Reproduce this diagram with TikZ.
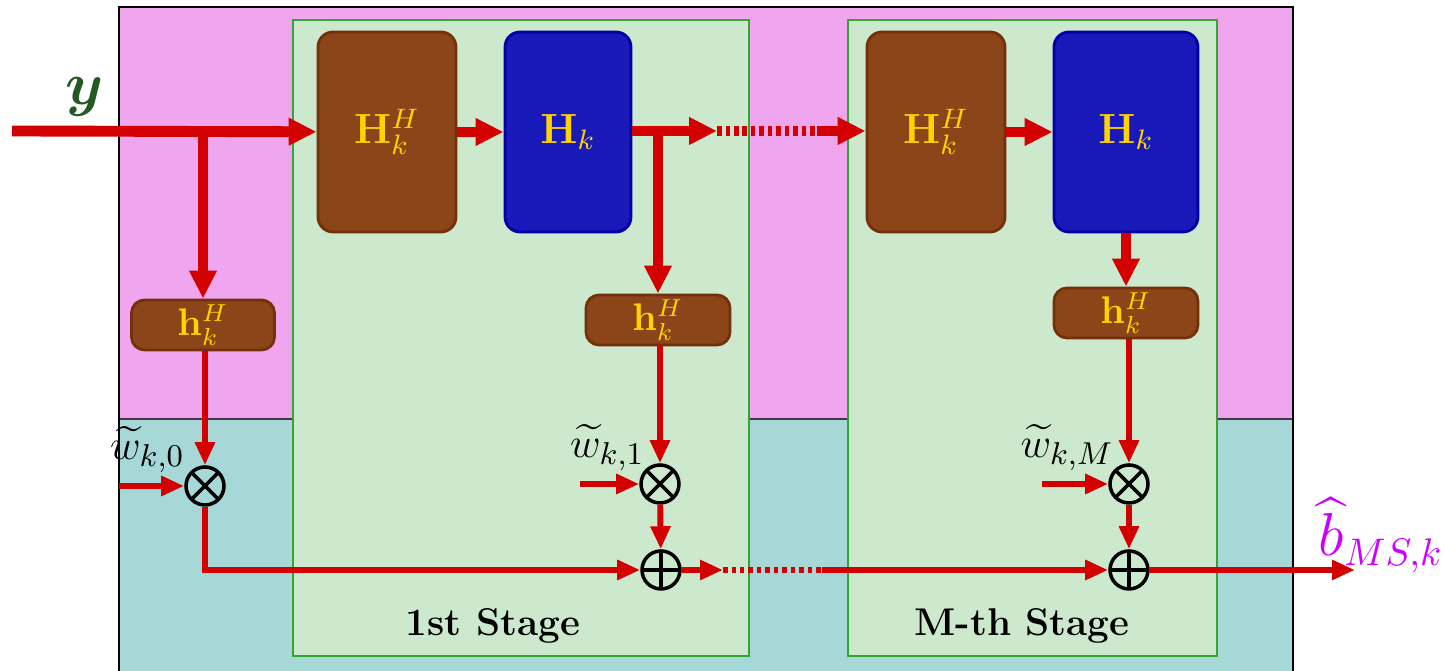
\documentclass[tikz,border=0pt]{standalone}
\usepackage{amsmath, amssymb, bm}
\usetikzlibrary{calc, positioning, arrows.meta}
\definecolor{bgpink}{RGB}{240,166,238}
\definecolor{bgcyan}{RGB}{166,216,216}
\definecolor{stagefill}{RGB}{205,233,205}
\definecolor{stageedge}{RGB}{50,165,50}
\definecolor{boxbrown}{RGB}{139,69,24}
\definecolor{boxbrownedge}{RGB}{115,48,10}
\definecolor{boxblue}{RGB}{25,25,185}
\definecolor{boxblueedge}{RGB}{0,0,165}
\definecolor{txtgold}{RGB}{255,210,0}
\definecolor{flowred}{RGB}{210,0,0}
\definecolor{ygreen}{RGB}{35,90,35}
\definecolor{outmagenta}{RGB}{204,0,255}
\tikzset{
    mtxbox/.style={rounded corners=1.5mm, line width=0.8pt, minimum height=2cm, text=txtgold, font=\large, inner sep=0pt},
    hhbox/.style={mtxbox, fill=boxbrown, draw=boxbrownedge, minimum width=1.38cm},
    hbox/.style={mtxbox, fill=boxblue, draw=boxblueedge},
    vecbox/.style={rounded corners=1.3mm, line width=0.8pt, fill=boxbrown, draw=boxbrownedge, minimum width=1.43cm, minimum height=0.5cm, inner sep=0pt, text=txtgold, font=\fontsize{10.5}{12}\selectfont},
    stagebox/.style={draw=stageedge, fill=stagefill, line width=0.6pt},
    mulnode/.style={circle, draw=black, line width=1pt, minimum size=0.38cm, inner sep=0pt,
        path picture={\draw[line width=1pt] (path picture bounding box.north west) -- (path picture bounding box.south east)
            (path picture bounding box.north east) -- (path picture bounding box.south west);}},
    addnode/.style={circle, draw=black, line width=1pt, minimum size=0.38cm, inner sep=0pt,
        path picture={\draw[line width=1pt] (path picture bounding box.north) -- (path picture bounding box.south)
            (path picture bounding box.east) -- (path picture bounding box.west);}},
    bigarrow/.style={-{Triangle[length=2.8mm, width=2.6mm]}, line width=3.1pt, draw=flowred},
    bigline/.style={line width=3.1pt, draw=flowred},
    smallarrow/.style={-{Triangle[length=2.3mm, width=1.9mm]}, line width=1.7pt, draw=flowred},
    smallline/.style={line width=1.7pt, draw=flowred},
    dotline/.style={dash pattern=on 0.045cm off 0.04cm},
    wlabel/.style={font=\fontsize{13}{15}\selectfont, inner sep=0pt, anchor=south east},
    stagelabel/.style={font=\fontsize{11}{13}\selectfont\bfseries}
}
\begin{document}
\begin{tikzpicture}[x=1cm,y=1cm]
    \useasboundingbox (0,0) rectangle (14.45,6.71);
    % backgrounds
    \fill[bgpink] (1.19,2.52) rectangle (12.93,6.64);
    \fill[bgcyan] (1.19,0) rectangle (12.93,2.52);
    \draw[black!70!bgpink, line width=0.5pt] (1.19,2.52) -- (12.93,2.52);
    \draw[black, line width=0.6pt] (1.19,0) |- (12.93,6.64) -- (12.93,0);
    \draw[stagebox] (2.93,0.15) rectangle (7.49,6.51);
    \draw[stagebox] (8.48,0.15) rectangle (12.17,6.51);
    \node[stagelabel] (st1) at (4.93,0.45) {1st Stage};
    \node[stagelabel] (stM) at (10.22,0.45) {M-th Stage};

    % matrix blocks
    \node[hhbox] (hh1) at (3.87,5.39) {$\mathbf{H}_k^H$};
    \node[hbox, minimum width=1.26cm] (h1) at (5.68,5.39) {$\mathbf{H}_k$};
    \node[hhbox] (hh2) at (9.36,5.39) {$\mathbf{H}_k^H$};
    \node[hbox, minimum width=1.44cm] (h2) at (11.26,5.39) {$\mathbf{H}_k$};

    % matched filters
    \node[vecbox] (v0) at (2.03,3.46) {$\mathbf{h}_k^H$};
    \node[vecbox, minimum width=1.44cm] (v1) at (6.58,3.51) {$\mathbf{h}_k^H$};
    \node[vecbox, minimum width=1.44cm] (v2) at (11.26,3.58) {$\mathbf{h}_k^H$};

    % combiners
    \node[mulnode] (mul0) at (2.05,1.85) {};
    \node[mulnode] (mul1) at (6.60,1.87) {};
    \node[mulnode] (mulM) at (11.29,1.87) {};
    \node[addnode] (add1) at (6.61,1.01) {};
    \node[addnode] (addM) at (11.29,1.01) {};

    \node[wlabel] (w0) at ([xshift=-0.05cm,yshift=-0.02cm]mul0.north west) {$\widetilde{w}_{k,0}$};
    \node[wlabel] (w1) at ([xshift=0cm,yshift=-0.02cm]mul1.north west) {$\widetilde{w}_{k,1}$};
    \node[wlabel] (wM) at ([xshift=0cm,yshift=-0.02cm]mulM.north west) {$\widetilde{w}_{k,M}$};

    \coordinate (yin) at (0.12,5.40);
    \node[text=ygreen, font=\fontsize{16}{19}\selectfont] (ylab) at (0.85,5.74) {$\bm{y}$};
    \coordinate (w0in) at (1.19,1.85);
    \coordinate (w1in) at (5.80,1.87);
    \coordinate (wMin) at (10.42,1.87);
    \coordinate (out) at (13.55,1.01);
    \node[text=outmagenta, font=\fontsize{16}{19}\selectfont] (blab) at (13.81,1.36) {$\widehat{b}_{MS,k}$};

    % upper chain
    \draw[bigarrow] (yin) -- (hh1);
    \draw[bigarrow] (hh1) -- (h1);
    \coordinate (d1) at (7.17,5.40);
    \coordinate (d2) at (8.17,5.40);
    \draw[bigarrow] (h1.east |- d1) -- (d1);
    \draw[bigline, dotline] (d1) -- (d2);
    \draw[bigarrow] (d2) -- (hh2.west |- d2);
    \draw[bigarrow] (hh2) -- (h2);
    \draw[bigarrow] (yin -| v0.north) -- (v0.north);
    \draw[bigarrow] (d1 -| v1.north) -- (v1.north);
    \draw[bigarrow] (h2.south) -- (v2.north);

    % lower chain
    \draw[smallarrow] (v0.south -| mul0) -- (mul0);
    \draw[smallarrow] (w0in) -- (mul0);
    \draw[smallarrow] (mul0) |- (add1);
    \draw[smallarrow] (v1.south -| mul1) -- (mul1);
    \draw[smallarrow] (w1in) -- (mul1);
    \draw[smallarrow] (mul1) -- (add1);
    \coordinate (e1) at (7.23,1.01);
    \coordinate (e2) at (8.22,1.01);
    \draw[smallarrow] (add1) -- (e1);
    \draw[smallline, dotline] (e1) -- (e2);
    \draw[smallarrow] (e2) -- (addM);
    \draw[smallarrow] (v2.south -| mulM) -- (mulM);
    \draw[smallarrow] (wMin) -- (mulM);
    \draw[smallarrow] (mulM) -- (addM);
    \draw[smallarrow] (addM) -- (out);
\end{tikzpicture}
\end{document}
